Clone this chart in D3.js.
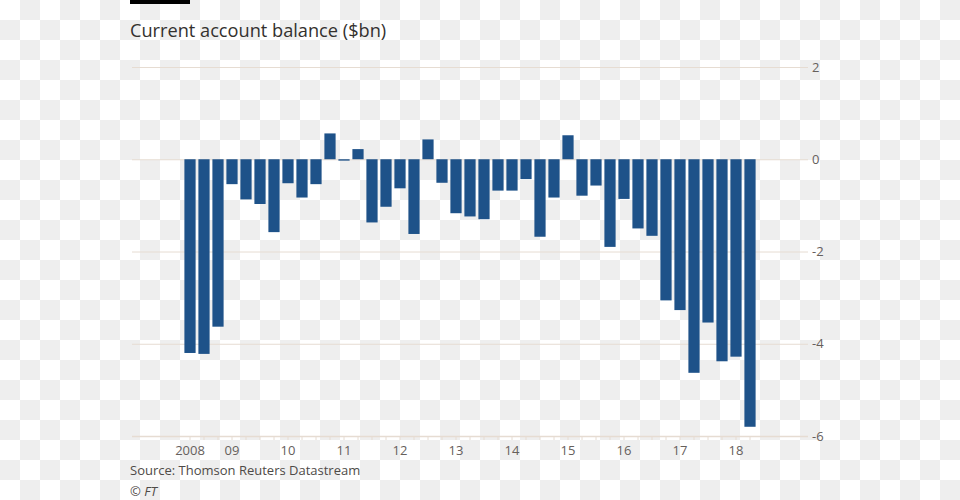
<!DOCTYPE html>
<html>
<head>
<meta charset="utf-8">
<script src="https://cdn.jsdelivr.net/npm/d3@7"></script>
<style>
  html, body { margin: 0; padding: 0; }
  body {
    width: 960px; height: 500px; overflow: hidden;
    background-color: #fff;
    background-image: conic-gradient(#eeeeee 0 25%, #ffffff 0 50%, #eeeeee 0 75%, #ffffff 0);
    background-size: 40px 40px;
  }
  text { font-family: "Open Sans", "Noto Sans", sans-serif; }
</style>
</head>
<body>
<svg id="chart" width="960" height="500"></svg>
<script>
// Quarterly periods, 2008 Q2 to 2018 Q2
const quarters = [
  "2008Q2","2008Q3","2008Q4",
  "2009Q1","2009Q2","2009Q3","2009Q4",
  "2010Q1","2010Q2","2010Q3","2010Q4",
  "2011Q1","2011Q2","2011Q3","2011Q4",
  "2012Q1","2012Q2","2012Q3","2012Q4",
  "2013Q1","2013Q2","2013Q3","2013Q4",
  "2014Q1","2014Q2","2014Q3","2014Q4",
  "2015Q1","2015Q2","2015Q3","2015Q4",
  "2016Q1","2016Q2","2016Q3","2016Q4",
  "2017Q1","2017Q2","2017Q3","2017Q4",
  "2018Q1","2018Q2"
];
// Current account balance, $bn
const balance = [
  -4.20, -4.22, -3.63,
  -0.54, -0.87, -0.97, -1.58,
  -0.52, -0.83, -0.54, 0.56,
  -0.03, 0.22, -1.37, -1.03,
  -0.63, -1.62, 0.43, -0.51,
  -1.17, -1.24, -1.30, -0.68,
  -0.68, -0.43, -1.68, -0.83,
  0.52, -0.79, -0.57, -1.90,
  -0.86, -1.50, -1.66, -3.06,
  -3.27, -4.63, -3.54, -4.38,
  -4.28, -5.80
];
// Year tick labels, placed on the first quarter of each year shown
const yearTicks = ["2008Q2","2009Q1","2010Q1","2011Q1","2012Q1","2013Q1","2014Q1","2015Q1","2016Q1","2017Q1","2018Q1"];
const yearLabels = ["2008","09","10","11","12","13","14","15","16","17","18"];
const yTicks = [2, 0, -2, -4, -6];

const data = quarters.map((q, i) => ({ q, v: balance[i] }));

const svg = d3.select("#chart");
const gridColor = "#e6dcd2";
const textColor = "#66605c";

const x = d3.scaleBand().domain(quarters).range([184.4, 755.6]).paddingInner(0.2).paddingOuter(0);
const y = d3.scaleLinear().domain([-6, 2]).range([436, 67]);

// header bar and title
svg.append("rect").attr("x", 130).attr("y", 0).attr("width", 60).attr("height", 4).attr("fill", "#000");
svg.append("text").attr("x", 130).attr("y", 37)
  .attr("font-size", 18.2).attr("fill", "#33302e").text("Current account balance ($bn)");

// gridlines + y labels
const yAxis = d3.axisRight(y).tickValues(yTicks).tickSize(676).tickFormat(d3.format("d"));
const gy = svg.append("g").attr("transform", "translate(132,0)").call(yAxis);
gy.select(".domain").remove();
gy.selectAll(".tick line").attr("stroke", gridColor).attr("stroke-width", 1);
gy.selectAll(".tick text").attr("x", 680).attr("dx", 0)
  .attr("font-size", 13).attr("fill", textColor)
  .attr("font-family", "\"Open Sans\", \"Noto Sans\", sans-serif")
  .text(d => d < 0 ? "-" + Math.abs(d) : d);

// bars
svg.append("g").selectAll("rect").data(data).join("rect")
  .attr("x", d => x(d.q))
  .attr("width", x.bandwidth())
  .attr("y", d => y(Math.max(0, d.v)))
  .attr("height", d => Math.max(1, Math.abs(y(d.v) - y(0))))
  .attr("fill", "#1e5289");

// x axis
const xAxis = d3.axisBottom(x).tickSize(4).tickFormat("");
const gx = svg.append("g").attr("transform", "translate(0,436)").call(xAxis);
gx.select(".domain").remove();
gx.selectAll(".tick line").attr("stroke", gridColor);
svg.append("line").attr("x1", 132).attr("x2", 808).attr("y1", 436.5).attr("y2", 436.5)
  .attr("stroke", gridColor).attr("stroke-width", 1.5);

svg.append("g").selectAll("text").data(yearTicks).join("text")
  .attr("x", d => x(d) + x.bandwidth() / 2)
  .attr("y", 455)
  .attr("text-anchor", "middle")
  .attr("font-size", 13).attr("fill", textColor)
  .text((d, i) => yearLabels[i]);

// source / credit
svg.append("text").attr("x", 130).attr("y", 475).attr("font-size", 13).attr("fill", "#4e4a47")
  .text("Source: Thomson Reuters Datastream");
svg.append("text").attr("x", 130).attr("y", 496).attr("font-size", 13).attr("fill", "#4e4a47")
  .attr("font-style", "italic").text("© FT");
</script>
</body>
</html>
